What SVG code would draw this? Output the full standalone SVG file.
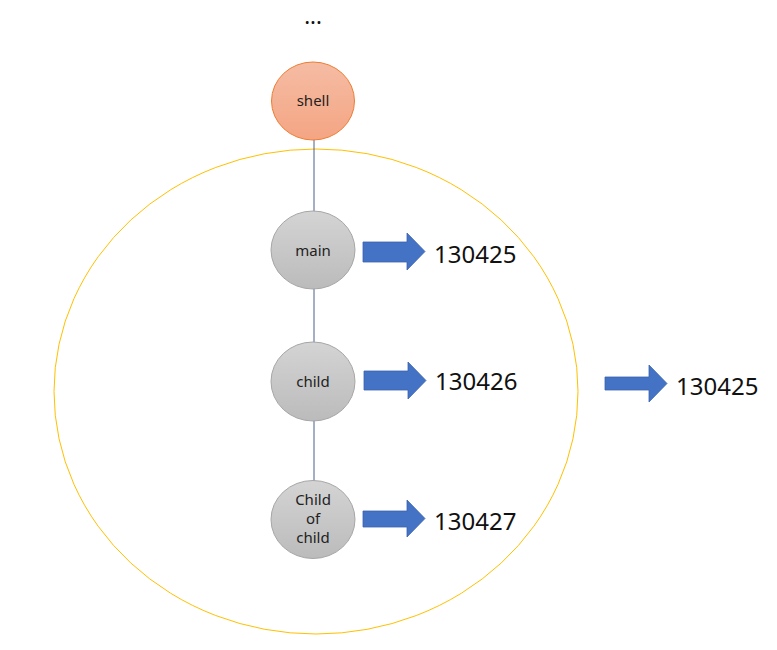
<svg xmlns="http://www.w3.org/2000/svg" width="777" height="650" viewBox="0 0 777 650">
<defs>
<linearGradient id="gOrange" x1="0" y1="0" x2="0" y2="1">
<stop offset="0" stop-color="#F5BCA4"/>
<stop offset="1" stop-color="#F4A583"/>
</linearGradient>
<linearGradient id="gGray" x1="0" y1="0" x2="0" y2="1">
<stop offset="0" stop-color="#D4D4D4"/>
<stop offset="1" stop-color="#BBBBBB"/>
</linearGradient>
<style>
.lbl{font-family:"Malgun Gothic","Noto Sans","Open Sans",sans-serif;font-size:15px;fill:#222;text-anchor:middle}
.num{font-family:"Malgun Gothic","Noto Sans","Open Sans",sans-serif;font-size:24px;fill:#111}
.gray{fill:url(#gGray);stroke:#A6A6A6;stroke-width:1}
.arrow{fill:#4472C4;stroke:#3A63AE;stroke-width:0.8}
</style>
</defs>
<rect width="777" height="650" fill="#ffffff"/>
<text x="313" y="24" class="lbl" style="font-size:22px;fill:#111">...</text>
<ellipse id="boundary" cx="316" cy="391.5" rx="262" ry="242.5" fill="none" stroke="#FFC000" stroke-width="1"/>
<g id="connectors">
<line x1="314" y1="139" x2="314" y2="481" stroke="#4A5F8C" stroke-width="1"/>
</g>
<g id="shell">
<ellipse cx="313" cy="101" rx="41.5" ry="39" fill="url(#gOrange)" stroke="#ED7D31" stroke-width="1"/>
<text x="313" y="106" class="lbl">shell</text>
</g>
<g id="main">
<ellipse class="gray" cx="313" cy="250" rx="42" ry="39"/>
<text x="313" y="256" class="lbl">main</text>
</g>
<g id="child">
<ellipse class="gray" cx="313" cy="381.5" rx="42" ry="39.5"/>
<text x="313" y="387" class="lbl">child</text>
</g>
<g id="childofchild">
<ellipse class="gray" cx="313" cy="519.5" rx="42" ry="39"/>
<text x="313" y="505" class="lbl">Child</text>
<text x="313" y="524" class="lbl">of</text>
<text x="313" y="543" class="lbl">child</text>
</g>
<g id="pid-main">
<polygon class="arrow" points="363,242 407,242 407,233 425,251.5 407,270 407,262 363,262"/>
<text x="434" y="263" class="num">130425</text>
</g>
<g id="pid-child">
<polygon class="arrow" points="364,371 408,371 408,362 426,380.5 408,399 408,390 364,390"/>
<text x="435" y="390" class="num">130426</text>
</g>
<g id="pid-childofchild">
<polygon class="arrow" points="363,511 407,511 407,500 425,518.5 407,537 407,527 363,527"/>
<text x="434" y="530" class="num">130427</text>
</g>
<g id="pid-outer">
<polygon class="arrow" points="605,377 649,377 649,365 667,383.5 649,402 649,390 605,390"/>
<text x="676" y="395" class="num">130425</text>
</g>
</svg>
